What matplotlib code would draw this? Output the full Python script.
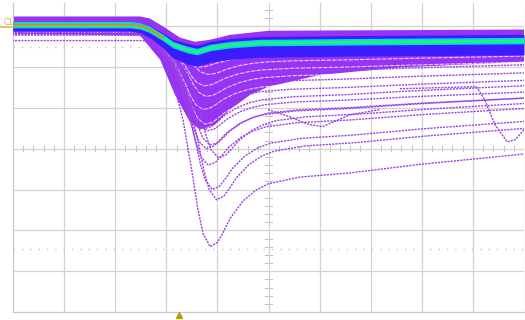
import numpy as np
import matplotlib
matplotlib.use("Agg")
import matplotlib.pyplot as plt
from matplotlib.lines import Line2D

# all values in screen divisions (x: -5..5, y: 0 = centre line)

# shape of one glitch trace, as a fraction of its depth
tmpl_x = np.array([-6.0, -2.40, -2.25, -2.10, -1.93, -1.80, -1.67, -1.48, -1.38, -1.28,
                   -1.14, -1.00, -0.90, -0.75, -0.50, -0.25, 0.0, 0.6, 1.6, 3.0, 6.0])
tmpl_f = np.array([0.0, 0.0, 0.03, 0.09, 0.19, 0.30, 0.42, 0.68, 0.83, 0.94,
                   1.0, 0.98, 0.94, 0.87, 0.79, 0.74, 0.71, 0.68, 0.66, 0.62, 0.55])

# single rare traces: start level, depth of the dip, time shift
trace_base = [2.92, 2.87, 2.92, 2.84, 2.92, 2.89, 2.79, 2.94, 2.65, 2.79, 2.84, 2.92]
trace_depth = [5.32, 4.12, 3.92, 3.24, 3.14, 2.89, 2.70, 2.45, 2.21, 1.96, 1.72, 1.52]
trace_shift = [0.0, 0.12, 0.04, -0.04, 0.16, -0.08, 0.0, -0.12, -0.06, -0.16, -0.10, -0.20]

# white gaps inside the dense band
gap_base = [2.92, 2.89, 2.87, 2.90, 2.88, 2.86, 2.85]
gap_depth = [0.78, 1.35, 1.05, 0.90, 1.60, 1.90, 2.25]
gap_shift = [-0.16, -0.12, -0.05, -0.22, -0.08, -0.14, -0.10]

# traces with a second, late dip
late1_x = [2.57, 4.07, 4.23, 4.43, 4.67, 4.83, 5.0]
late1_y = [1.47, 1.52, 1.20, 0.59, 0.17, 0.22, 0.47]
late2_x = [-0.01, 0.42, 0.75, 1.05, 1.34, 1.59, 2.18]
late2_y = [0.96, 0.78, 0.61, 0.54, 0.69, 0.83, 0.96]

# most frequent trace (centre of the persistence band) and its blue halo
mean_x = [-5.0, -2.71, -2.51, -2.32, -2.06, -1.87, -1.59, -1.40, -1.14, -0.75, -0.17, 1.60, 5.0]
mean_y = [3.04, 3.04, 3.01, 2.92, 2.72, 2.55, 2.43, 2.38, 2.48, 2.55, 2.60, 2.62, 2.65]
halo_up = [0.08, 0.08, 0.08, 0.09, 0.11, 0.13, 0.15, 0.15, 0.15, 0.15, 0.15, 0.15, 0.15]
halo_dn = [0.16, 0.16, 0.17, 0.20, 0.26, 0.32, 0.36, 0.36, 0.36, 0.36, 0.36, 0.35, 0.35]

# outline of the dense area
up_x = [-5.0, -2.51, -2.32, -2.03, -1.73, -1.44, -1.14, -0.75, 0.0, 5.0]
up_y = [3.24, 3.24, 3.19, 2.97, 2.72, 2.62, 2.67, 2.79, 2.89, 2.92]
lo_x = [-5.0, -2.51, -2.12, -1.83, -1.54, -1.34, -1.05, -0.75, -0.36, 0.0, 1.01, 2.57, 5.0]
lo_y = [2.82, 2.77, 2.18, 1.32, 0.66, 0.47, 0.59, 0.96, 1.32, 1.52, 1.81, 1.99, 2.13]

cursor_y = [2.48, -2.45]

fig = plt.figure(figsize=(5.25, 3.2), dpi=100)
ax = fig.add_axes([13 / 525, 8 / 320, 511 / 525, 309 / 320])
ax.set_xlim(-5, 5)
ax.set_ylim(-4, 3.57)

# graticule
ax.set_xticks(range(-5, 6))
ax.set_yticks(range(-4, 4))
ax.grid(True, color="#d2d2d2", lw=0.9)
ax.tick_params(length=0, labelbottom=False, labelleft=False)
for s in ["top", "right"]:
    ax.spines[s].set_visible(False)
for s in ["left", "bottom"]:
    ax.spines[s].set_color("#c8c8c8")
for t in np.arange(-5, 5.01, 0.2):
    ax.plot([t, t], [-0.06, 0.06], color="#bdbdbd", lw=0.7, zorder=1)
for t in np.arange(-4, 3.6, 0.2):
    ax.plot([-0.06, 0.06], [t, t], color="#bdbdbd", lw=0.7, zorder=1)
for cy in cursor_y:
    ax.axhline(cy, color="#c4c4c4", lw=1.0, ls=(0, (1, 5)), zorder=1)

# dense persistence area
ax.fill(np.r_[up_x, lo_x[::-1]], np.r_[up_y, lo_y[::-1]], color="#9633f5", lw=0, zorder=2)
for b, d, s in zip(gap_base, gap_depth, gap_shift):
    ax.plot(tmpl_x + s, b - d * tmpl_f, color="white", lw=0.8, ls=(0, (4, 1)), alpha=0.75, zorder=3)

mx = np.array(mean_x)
my = np.array(mean_y)
ax.fill_between(mx, my + np.array(halo_up), my - np.array(halo_dn), color="#3a1cff", lw=0, zorder=4)
ax.fill_between(mx, my + 0.08, my - 0.08, color="#00d6ee", lw=0, zorder=5)
ax.fill_between(mx, my + 0.04, my - 0.04, color="#22f27a", lw=0, zorder=6)
left = mx <= -2.0
ax.plot(mx[left], my[left], color="#ff7a00", lw=1.2, zorder=7)

# rare traces
for b, d, s in zip(trace_base, trace_depth, trace_shift):
    ax.plot(tmpl_x + s, b - d * tmpl_f, color="#9b3fe6", lw=1.0, ls=(0, (1.5, 0.8)), zorder=3)
ax.plot(late1_x, late1_y, color="#9b3fe6", lw=1.0, ls=(0, (1.5, 0.8)), zorder=3)
ax.plot(late2_x, late2_y, color="#9b3fe6", lw=1.0, ls=(0, (1.5, 0.8)), zorder=3)

# channel label and trigger marker
fig.text(4 / 525, 1 - 25 / 320, "C1", color="#c8b440", fontsize=5.5)
fig.add_artist(Line2D([0, 13 / 525], [1 - 27 / 320] * 2, color="#d4c050", lw=1.2))
fig.add_artist(Line2D([179 / 525], [1 - 315 / 320], marker="^", color="#a8a800", markersize=5))

fig.savefig("out.png", dpi=100)
